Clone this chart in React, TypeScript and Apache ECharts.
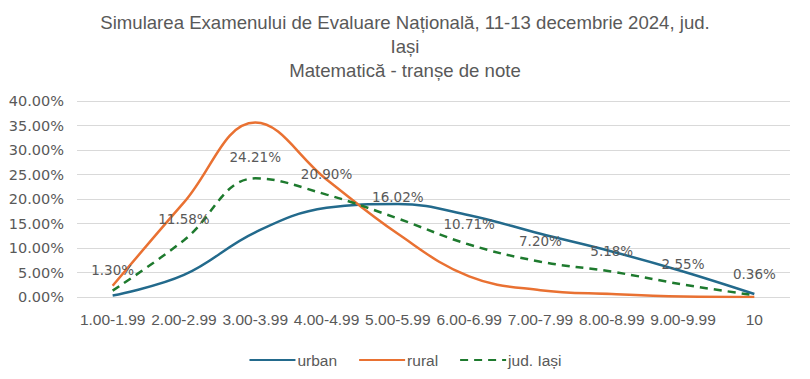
import React, { useEffect, useRef } from "react";
import * as echarts from "echarts";

const categories = ["1.00-1.99", "2.00-2.99", "3.00-3.99", "4.00-4.99", "5.00-5.99", "6.00-6.99", "7.00-7.99", "8.00-8.99", "9.00-9.99", "10"];
const urbanValues = [0.3, 4.5, 13.2, 18.2, 19.0, 16.7, 12.9, 9.3, 5.2, 0.6];
const ruralValues = [2.3, 19.3, 35.6, 24.0, 12.9, 4.2, 1.4, 0.6, 0.1, 0.0];
const judValues = [1.3, 11.58, 24.21, 20.9, 16.02, 10.71, 7.2, 5.18, 2.55, 0.36];
const titleLines = [
  "Simularea Examenului de Evaluare Națională, 11-13 decembrie 2024, jud.",
  "Iași",
  "Matematică - tranșe de note",
];

const TEXT = "#595959";
const SMOOTH = 0.4;

export default function App() {
  const ref = useRef<HTMLDivElement>(null);
  useEffect(() => {
    if (!ref.current) return;
    const chart = echarts.init(ref.current, undefined, { renderer: "svg" });
    const lineBase = {
      type: "line",
      smooth: SMOOTH,
      symbol: "circle",
      symbolSize: 0.01,
      showSymbol: true,
    };
    chart.setOption({
      animation: false,
      backgroundColor: "#ffffff",
      title: {
        text: titleLines.join("\n"),
        left: "center",
        top: 5,
        textStyle: {
          fontFamily: "Liberation Sans",
          fontSize: 18.6,
          fontWeight: "normal",
          color: TEXT,
          lineHeight: 24,
        },
      },
      legend: {
        top: 347,
        left: "center",
        itemWidth: 46,
        itemHeight: 14,
        itemGap: 21,
        itemStyle: { opacity: 0 },
        textStyle: { fontFamily: "Liberation Sans", fontSize: 15.5, color: TEXT, padding: [0, 0, 0, -3] },
        data: ["urban", "rural", "jud. Iași"],
      },
      grid: { left: 77, right: 20, top: 101, bottom: 82 },
      xAxis: {
        type: "category",
        data: categories,
        boundaryGap: true,
        axisLine: { show: false },
        axisTick: { show: false },
        axisLabel: {
          interval: 0,
          margin: 14,
          fontFamily: "Liberation Sans",
          fontSize: 15.5,
          color: TEXT,
        },
      },
      yAxis: {
        type: "value",
        min: 0,
        max: 40,
        interval: 5,
        axisLine: { show: false },
        axisTick: { show: false },
        splitLine: { lineStyle: { color: "#D9D9D9", width: 1 } },
        axisLabel: {
          margin: 13,
          fontFamily: "DejaVu Sans",
          fontSize: 14.5,
          color: TEXT,
          formatter: (v: number) => v.toFixed(2) + "%",
        },
      },
      series: [
        {
          ...lineBase,
          name: "urban",
          data: urbanValues,
          lineStyle: { color: "#236A8C", width: 2.5 },
          itemStyle: { color: "#236A8C" },
          z: 2,
        },
        {
          ...lineBase,
          name: "rural",
          data: ruralValues,
          lineStyle: { color: "#E97132", width: 2.5 },
          itemStyle: { color: "#E97132" },
          z: 2,
        },
        {
          ...lineBase,
          name: "jud. Iași",
          data: judValues,
          lineStyle: { color: "#1E7A2E", width: 2.5, type: [8, 6] },
          itemStyle: { color: "#1E7A2E" },
          label: {
            show: true,
            position: "top",
            distance: 14,
            fontFamily: "DejaVu Sans",
            fontSize: 13.5,
            color: TEXT,
            formatter: (p: any) => Number(p.value).toFixed(2) + "%",
          },
          z: 3,
        },
      ],
    });
    return () => chart.dispose();
  }, []);
  return <div ref={ref} style={{ position: "absolute", left: 0, top: 0, width: 810, height: 379 }} />;
}
